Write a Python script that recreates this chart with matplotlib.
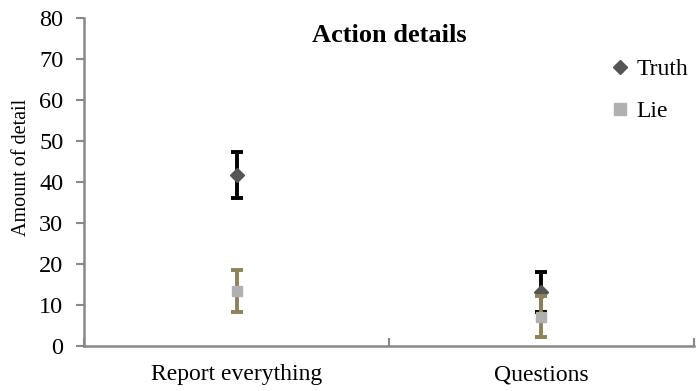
import numpy as np
import matplotlib.pyplot as plt

plt.rcParams['font.family'] = ['Liberation Serif', 'DejaVu Serif']

condiciones = ['Report everything', 'Questions']
verdad = [41.6, 13.2]
verdad_err = [5.6, 4.8]
mentira = [13.4, 7.2]
mentira_err = [5.2, 5.0]

x = np.arange(len(condiciones))

fig = plt.figure(figsize=(6.96, 3.91), dpi=100)
ax = fig.add_axes([0.121, 0.115, 0.876, 0.839])

ax.errorbar(x, verdad, yerr=verdad_err, fmt='D', color='#555555', markersize=7,
            ecolor='black', elinewidth=2.8, capsize=4.5, capthick=2.8, label='Truth', zorder=3)
ax.errorbar(x, mentira, yerr=mentira_err, fmt='s', color='#b0b0b0', markersize=7.5,
            ecolor='#8c8356', elinewidth=2.8, capsize=4.5, capthick=2.8, label='Lie', zorder=4)

ax.set_xlim(-0.5, 1.5)
ax.set_ylim(0, 80)
ax.set_yticks(range(0, 81, 10))
ax.set_xticks([-0.5, 0.5, 1.5], minor=False)
ax.set_xticklabels([])
ax.set_xticks(x, minor=True)
ax.set_xticklabels(condiciones, minor=True, fontsize=17)
ax.tick_params(axis='x', which='minor', length=0, pad=13)
ax.tick_params(axis='x', which='major', length=6, width=1.5, color='#888888', direction='in')
ax.tick_params(axis='y', length=6, width=1.5, color='#888888', labelsize=17.5, pad=9)

for lado in ['top', 'right']:
    ax.spines[lado].set_visible(False)
for lado in ['left', 'bottom']:
    ax.spines[lado].set_color('#888888')
    ax.spines[lado].set_linewidth(1.8)

ax.set_ylabel('Amount of detail', fontsize=14.5)
ax.yaxis.set_label_coords(-0.087, 0.545)
ax.set_title('Action details', fontsize=19, fontweight='bold', y=0.9)

# Leyenda solo con los marcadores, sin barras de error.
h_v = plt.Line2D([], [], marker='D', color='#555555', linestyle='none', markersize=7)
h_m = plt.Line2D([], [], marker='s', color='#b0b0b0', linestyle='none', markersize=8)
ax.legend([h_v, h_m], ['Truth', 'Lie'], frameon=False, fontsize=17,
          loc='upper right', bbox_to_anchor=(1.025, 0.94), labelspacing=0.85,
          handlelength=0.6, handletextpad=0.4)

plt.savefig('out.png', dpi=100)
